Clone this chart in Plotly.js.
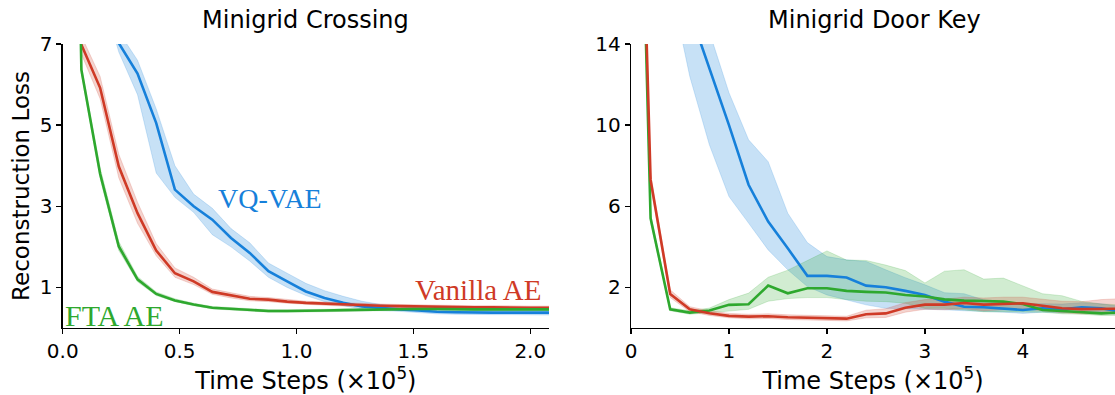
<!DOCTYPE html>
<html>
<head>
<meta charset="utf-8">
<script src="https://cdn.plot.ly/plotly-3.0.1.min.js"></script>
<style>html,body{margin:0;padding:0;background:#fff;}#chart{width:1115px;height:395px;}</style>
</head>
<body>
<div id="chart"></div>
<script>
// ---------- Minigrid Crossing (left) ----------
const crossX = [0,0.08,0.16,0.24,0.32,0.40,0.48,0.56,0.64,0.72,0.80,0.88,0.96,1.04,1.12,1.20,1.28,1.36,1.44,1.52,1.60,1.68,1.76,1.84,1.92,2.00,2.08];
const crossVanilla = [40,6.98,5.92,3.98,2.83,1.91,1.35,1.15,0.89,0.80,0.72,0.70,0.65,0.62,0.60,0.58,0.56,0.55,0.54,0.53,0.52,0.52,0.51,0.51,0.50,0.50,0.50];
const crossVanillaLo = [38,6.75,5.65,3.70,2.58,1.78,1.25,1.07,0.83,0.74,0.67,0.65,0.61,0.58,0.56,0.54,0.52,0.51,0.50,0.49,0.48,0.48,0.47,0.47,0.46,0.46,0.46];
const crossVanillaHi = [42,7.20,6.20,4.28,3.10,2.08,1.48,1.25,0.96,0.87,0.78,0.75,0.70,0.66,0.64,0.62,0.60,0.59,0.58,0.57,0.56,0.56,0.55,0.55,0.54,0.54,0.54];
const crossFTA = [30,6.36,3.80,2.01,1.20,0.84,0.68,0.58,0.50,0.47,0.45,0.42,0.42,0.42,0.43,0.44,0.45,0.46,0.47,0.47,0.47,0.46,0.46,0.46,0.46,0.46,0.46];
const crossFTALo = [28,6.26,3.68,1.91,1.14,0.80,0.65,0.55,0.47,0.44,0.42,0.39,0.39,0.39,0.40,0.41,0.42,0.43,0.44,0.44,0.44,0.43,0.43,0.43,0.43,0.43,0.43];
const crossFTAHi = [32,6.46,3.95,2.13,1.27,0.89,0.72,0.61,0.53,0.50,0.48,0.45,0.45,0.45,0.46,0.47,0.48,0.49,0.50,0.50,0.50,0.49,0.49,0.49,0.49,0.49,0.49];
const crossVQ = [14,11,8.8,7.02,6.27,5.05,3.41,3.00,2.67,2.22,1.85,1.40,1.15,0.90,0.74,0.62,0.53,0.49,0.46,0.43,0.40,0.39,0.38,0.38,0.38,0.38,0.38];
const crossVQLo = [13,10.5,8.4,6.80,5.75,3.82,3.22,2.85,2.30,2.00,1.65,1.25,1.00,0.80,0.65,0.55,0.47,0.43,0.41,0.38,0.35,0.34,0.33,0.33,0.33,0.32,0.32];
const crossVQHi = [15,11.5,9.2,7.30,6.60,5.40,4.00,3.30,2.95,2.45,2.10,1.60,1.35,1.10,0.92,0.78,0.66,0.58,0.53,0.49,0.46,0.45,0.44,0.44,0.44,0.44,0.44];

// ---------- Minigrid Door Key (right) ----------
const doorX = [0,0.2,0.4,0.6,0.8,1.0,1.2,1.4,1.6,1.8,2.0,2.2,2.4,2.6,2.8,3.0,3.2,3.4,3.6,3.8,4.0,4.2,4.4,4.6,4.8,5.0];
const doorVanilla = [41,7.3,1.68,0.92,0.73,0.60,0.56,0.58,0.53,0.51,0.50,0.46,0.68,0.72,1.00,1.15,1.15,1.23,1.15,1.20,1.22,1.10,0.97,0.93,0.96,0.95];
const doorVanillaLo = [39,7.0,1.50,0.80,0.62,0.50,0.45,0.47,0.42,0.40,0.38,0.35,0.50,0.52,0.78,0.92,0.90,0.95,0.85,0.90,0.95,0.85,0.75,0.70,0.70,0.70];
const doorVanillaHi = [43,7.6,1.88,1.05,0.85,0.72,0.68,0.70,0.65,0.63,0.62,0.58,0.88,0.95,1.25,1.40,1.42,1.52,1.48,1.52,1.52,1.42,1.32,1.30,1.40,1.45];
const doorFTA = [42,5.41,0.92,0.76,0.86,1.14,1.17,2.09,1.71,1.96,1.96,1.83,1.78,1.75,1.63,1.55,1.41,1.35,1.33,1.30,1.18,0.89,0.84,0.79,0.72,0.76];
const doorFTALo = [40,5.2,0.85,0.68,0.75,0.85,0.92,1.32,1.45,1.50,1.50,1.40,1.32,1.30,1.22,0.97,0.97,0.89,0.80,0.80,0.80,0.78,0.70,0.68,0.62,0.62];
const doorFTAHi = [44,5.6,1.00,0.85,0.98,1.40,1.72,2.50,2.85,3.32,3.80,3.35,3.33,3.10,2.83,2.22,2.80,2.87,2.41,2.46,2.08,1.69,1.59,1.31,1.18,1.14];
const doorVQ = [30,24,19,15.6,12.8,10.0,7.06,5.25,3.93,2.57,2.57,2.49,2.09,2.01,1.83,1.63,1.30,1.05,1.02,0.97,0.89,0.97,0.92,1.02,0.97,0.80];
const doorVQLo = [28,21,17,12.4,9.03,6.48,5.17,3.85,2.87,2.04,1.63,1.38,1.14,0.97,0.95,0.92,0.90,0.85,0.82,0.78,0.72,0.78,0.75,0.82,0.78,0.62];
const doorVQHi = [32,26,21,18,14.6,11.6,9.28,8.2,5.66,4.21,3.52,3.36,3.28,2.87,2.48,2.13,1.74,1.69,1.39,1.30,1.20,1.20,1.18,1.25,1.20,1.05];

const crossXTicks = [0,0.5,1.0,1.5,2.0];
const crossXTickText = ['0.0','0.5','1.0','1.5','2.0'];
const crossYTicks = [1,3,5,7];
const doorXTicks = [0,1,2,3,4];
const doorYTicks = [2,6,10,14];

const COLORS = {
  vq: 'rgb(22,128,218)',
  vqFill: 'rgba(22,128,218,0.24)',
  vqEdge: 'rgba(22,128,218,0.18)',
  van: 'rgb(207,58,38)',
  vanFill: 'rgba(207,58,38,0.22)',
  vanEdge: 'rgba(207,58,38,0.18)',
  fta: 'rgb(46,168,46)',
  ftaFill: 'rgba(46,168,46,0.22)',
  ftaEdge: 'rgba(46,168,46,0.18)'
};

function band(x, lo, hi, fill, edge, xa, ya) {
  return [
    {x: x, y: lo, type: 'scatter', mode: 'lines', line: {color: edge, width: 1}, xaxis: xa, yaxis: ya, hoverinfo: 'skip', showlegend: false},
    {x: x, y: hi, type: 'scatter', mode: 'lines', line: {color: edge, width: 1}, fill: 'tonexty', fillcolor: fill, xaxis: xa, yaxis: ya, hoverinfo: 'skip', showlegend: false}
  ];
}
function line(x, y, color, xa, ya, name) {
  return {x: x, y: y, type: 'scatter', mode: 'lines', name: name, line: {color: color, width: 2.6}, xaxis: xa, yaxis: ya, showlegend: false};
}

const traces = [].concat(
  band(crossX, crossVQLo, crossVQHi, COLORS.vqFill, COLORS.vqEdge, 'x', 'y'),
  band(crossX, crossVanillaLo, crossVanillaHi, COLORS.vanFill, COLORS.vanEdge, 'x', 'y'),
  band(crossX, crossFTALo, crossFTAHi, COLORS.ftaFill, COLORS.ftaEdge, 'x', 'y'),
  [line(crossX, crossVQ, COLORS.vq, 'x', 'y', 'VQ-VAE'),
   line(crossX, crossVanilla, COLORS.van, 'x', 'y', 'Vanilla AE'),
   line(crossX, crossFTA, COLORS.fta, 'x', 'y', 'FTA AE')],
  band(doorX, doorVQLo, doorVQHi, COLORS.vqFill, COLORS.vqEdge, 'x2', 'y2'),
  band(doorX, doorFTALo, doorFTAHi, COLORS.ftaFill, COLORS.ftaEdge, 'x2', 'y2'),
  band(doorX, doorVanillaLo, doorVanillaHi, COLORS.vanFill, COLORS.vanEdge, 'x2', 'y2'),
  [line(doorX, doorVQ, COLORS.vq, 'x2', 'y2', 'VQ-VAE'),
   line(doorX, doorFTA, COLORS.fta, 'x2', 'y2', 'FTA AE'),
   line(doorX, doorVanilla, COLORS.van, 'x2', 'y2', 'Vanilla AE')]
);

const W = 1115, H = 395;
const yDom = [1 - 328/H, 1 - 44/H];
const tickFont = {family: 'DejaVu Sans', size: 20, color: '#000'};
const labFont = {family: 'DejaVu Sans', size: 24, color: '#000'};
const yLabFont = {family: 'DejaVu Sans', size: 23, color: '#000'};
const axCommon = {
  showline: true, linecolor: '#000', linewidth: 1.3, ticks: 'outside', ticklen: 5, tickwidth: 1.3, tickcolor: '#000',
  showgrid: false, zeroline: false, tickfont: tickFont, automargin: false, fixedrange: true
};
const serif = 'Liberation Serif';

const layout = {
  width: W, height: H,
  margin: {l: 0, r: 0, t: 0, b: 0},
  paper_bgcolor: '#fff', plot_bgcolor: '#fff',
  showlegend: false,
  xaxis: Object.assign({}, axCommon, {
    domain: [62.7/W, 549/W], range: [0, 2.08], anchor: 'y',
    tickvals: crossXTicks, ticktext: crossXTickText,
    title: {text: 'Time Steps (×10<sup>5</sup>)', font: labFont, standoff: 6}
  }),
  yaxis: Object.assign({}, axCommon, {
    domain: yDom, range: [0, 7], anchor: 'x',
    tickvals: crossYTicks,
    title: {text: 'Reconstruction Loss', font: yLabFont, standoff: 3}
  }),
  xaxis2: Object.assign({}, axCommon, {
    domain: [631/W, 1], range: [0, 4.94], anchor: 'y2',
    tickvals: doorXTicks,
    title: {text: 'Time Steps (×10<sup>5</sup>)', font: labFont, standoff: 6}
  }),
  yaxis2: Object.assign({}, axCommon, {
    domain: yDom, range: [0, 14], anchor: 'x2',
    tickvals: doorYTicks
  }),
  annotations: [
    {text: 'Minigrid Crossing', xref: 'paper', yref: 'paper', x: (62.7 + 549) / 2 / W, y: 1 - 20/H, xanchor: 'center', yanchor: 'middle', showarrow: false, font: labFont},
    {text: 'Minigrid Door Key', xref: 'paper', yref: 'paper', x: (631 + 1117) / 2 / W, y: 1 - 20/H, xanchor: 'center', yanchor: 'middle', showarrow: false, font: labFont},
    {text: 'VQ-VAE', xref: 'x', yref: 'y', x: 0.885, y: 3.2, xanchor: 'center', yanchor: 'middle', showarrow: false, font: {family: serif, size: 28, color: COLORS.vq}},
    {text: 'Vanilla AE', xref: 'x', yref: 'y', x: 1.775, y: 0.93, xanchor: 'center', yanchor: 'middle', showarrow: false, font: {family: serif, size: 29, color: COLORS.van}},
    {text: 'FTA AE', xref: 'x', yref: 'y', x: 0.22, y: 0.3, xanchor: 'center', yanchor: 'middle', showarrow: false, font: {family: serif, size: 30, color: COLORS.fta}}
  ]
};

Plotly.newPlot('chart', traces, layout, {displayModeBar: false, staticPlot: true});
</script>
</body>
</html>
